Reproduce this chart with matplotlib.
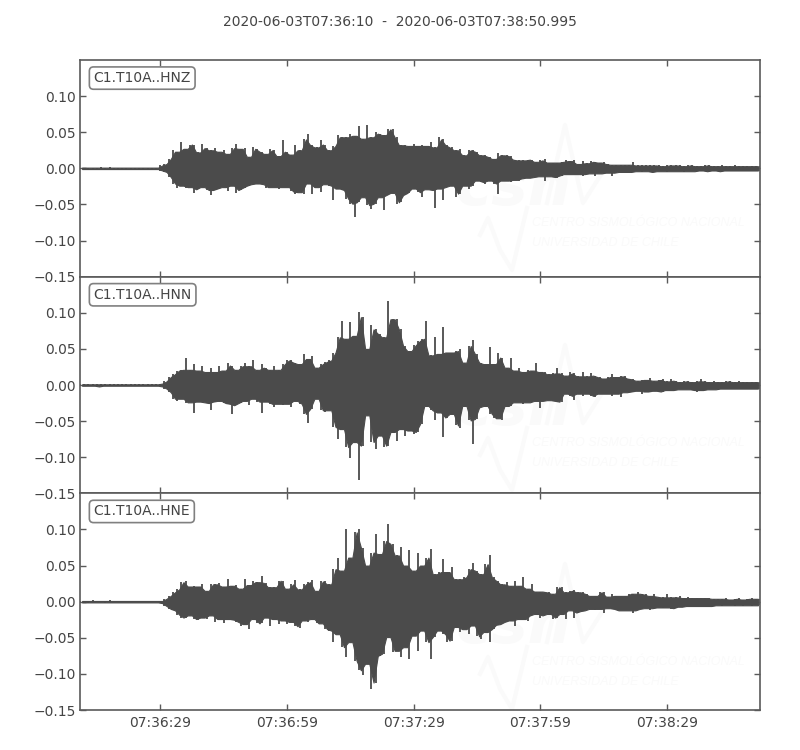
import numpy as np
import matplotlib
matplotlib.use("Agg")
import matplotlib.pyplot as plt
from matplotlib.lines import Line2D

# peak amplitudes, one value per second, in 0.001 units
z_up = [1,1,1,1,1,2,1,2,1,1, 1,1,1,1,1,1,1,1,1,
        4,6,13,25,23,37,27,33,33,22,
        34,28,25,28,23,26,20,28,34,27,
        28,16,29,27,23,20,27,25,17,39,
        23,19,33,25,40,48,32,29,39,33,
        25,31,46,43,43,48,45,58,41,60,
        43,51,48,46,54,54,43,32,32,31,
        34,31,32,31,36,29,43,40,32,29,
        25,27,18,25,25,23,18,18,16,13,
        21,18,18,17,12,11,11,12,12,9,
        11,13,8,8,8,9,12,10,11,6,
        10,7,10,9,8,9,6,5,5,5,
        5,5,9,4,4,5,
        4,5,4,3,4,4,5,4,3,4, 4,3,3,4,4,3,3,4,3,3, 4,3,3,3,3,3,3]
z_down = [1,1,1,1,1,1,2,1,1,1, 1,1,1,1,1,1,1,1,1,
          3,5,12,21,27,24,27,26,34,29,
          26,30,37,30,28,26,32,24,34,30,
          27,24,22,21,22,27,26,26,29,26,
          26,32,35,33,36,21,36,26,33,22,
          24,44,28,30,42,49,67,47,40,51,
          56,49,40,58,37,34,49,47,37,34,
          28,33,40,29,30,55,28,44,26,24,
          40,35,24,28,24,17,19,21,17,21,
          35,17,17,19,16,17,14,13,13,12,
          11,17,11,12,14,10,8,8,8,8,
          10,8,7,10,7,8,6,10,6,5,5,
          5,5,4,5,4,5,5,4,4,5, 4,4,4,5,4,4,4,3,4,4, 3,4,4,3,3,4,3,3,4,3, 3,3]

n_up = [2,1,2,1,2,1,2,1,2,1, 2,1,2,1,1,2,1,1,1,
        2,5,11,15,20,21,38,21,29,20,
        27,18,23,18,26,20,31,27,21,26,
        30,26,34,21,29,24,21,26,21,29,
        34,34,31,29,43,36,40,24,29,32,
        34,45,66,89,64,87,68,101,94,50,
        83,77,71,66,117,91,91,77,54,47,
        55,61,64,88,41,66,43,80,45,45,
        47,50,31,54,62,43,31,29,53,29,
        44,38,24,38,20,24,18,21,20,31,
        18,18,15,16,24,16,13,18,16,12,
        18,12,16,13,11,9,11,15,11,13,
        12,9,8,6,7,7,10,6,7,9,
        5,8,6,4,6,5,4,5,9,5, 4,5,4,4,6,5,4,5,4,4, 4,4,4]
n_down = [2,1,2,1,2,2,1,1,2,1, 1,2,1,1,1,1,1,1,1,
          2,5,10,19,22,19,25,24,39,23,
          24,25,34,23,22,25,26,40,28,25,
          22,28,19,23,39,23,26,31,26,28,
          26,31,22,26,40,52,33,19,35,38,
          35,58,75,61,86,101,79,132,84,42,
          79,89,70,86,84,65,77,61,70,63,
          68,65,54,29,35,49,38,72,45,40,
          56,59,29,49,82,47,31,29,40,46,
          46,49,29,29,24,24,26,24,24,22,
          32,22,21,22,23,23,12,15,21,12,
          15,12,15,17,12,12,12,15,12,17,
          10,10,9,8,12,9,9,8,9,9,
          7,8,7,6,6,6,7,9,7,7, 6,6,6,5,6,5,6,5,6,5, 5,5,5]

e_up = [1,1,1,2,1,1,1,2,1,1, 1,1,1,1,1,1,1,1,1,
        1,4,8,13,17,27,28,21,22,21,
        24,15,24,24,26,21,32,22,23,18,
        31,23,29,27,35,26,20,20,29,29,
        18,24,30,17,24,27,30,15,29,28,
        24,45,61,43,100,61,96,100,75,50,
        68,94,66,84,107,80,64,76,50,71,
        43,67,50,61,73,38,41,59,41,48,
        31,31,34,45,54,43,38,52,64,34,
        29,24,27,22,28,22,34,18,24,14,
        14,14,13,11,20,20,13,15,16,13,
        13,11,8,8,13,13,7,10,8,8,
        8,11,11,14,11,10,8,10,7,6,
        10,6,6,8,5,7,5,5,5,5, 5,4,4,4,5,3,4,5,3,4, 5,4,4]
e_down = [2,1,2,1,1,1,2,1,1,1, 1,1,1,1,1,1,1,1,1,
          2,6,10,12,18,23,22,19,24,25,
          22,24,19,28,24,29,24,25,28,33,
          31,38,24,30,30,22,33,24,31,26,
          31,28,34,36,26,28,24,30,30,38,
          40,56,45,63,77,56,82,95,101,86,
          121,112,75,72,49,70,68,77,63,79,
          47,68,40,56,79,49,40,45,56,54,
          35,42,38,45,33,48,52,42,56,38,
          32,31,28,26,33,24,24,27,19,17,
          22,19,17,24,22,17,24,12,22,15,
          13,12,10,12,10,16,9,10,12,12,
          12,12,15,12,10,9,12,9,8,9,
          8,10,9,7,7,6,8,6,7,6, 6,6,5,6,5,5,6,5,6,5, 6,5,5]

channels = ['C1.T10A..HNZ', 'C1.T10A..HNN', 'C1.T10A..HNE']
uppers = [z_up, n_up, e_up]
lowers = [z_down, n_down, e_down]
y_ticks = [-0.15, -0.10, -0.05, 0.00, 0.05, 0.10]
x_ticks = [19, 49, 79, 109, 139]
x_labels = ['07:36:29', '07:36:59', '07:37:29', '07:37:59', '07:38:29']
title = '2020-06-03T07:36:10  -  2020-06-03T07:38:50.995'
duration = 160.995

dark = '#4b4b4b'
text_col = '#444444'
edge_col = '#5a5a5a'
mark_col = '#fafafa'

fig, axes = plt.subplots(3, 1, figsize=(8, 7.5), sharex=True)
fig.subplots_adjust(left=0.1, right=0.95, top=0.92, bottom=0.0533, hspace=0)
fig.suptitle(title, fontsize=10, color=text_col, y=0.98)


def px(x, y):
    ''' pixel position to figure fraction '''
    return x / 800, 1 - y / 750


def add_watermark(ax, shift):
    # faint logo behind the trace
    for path in ([(480, 235), (488, 218), (500, 250), (512, 270), (527, 208)],
                 [(547, 203), (565, 125), (583, 203), (602, 173)]):
        xs, ys = zip(*[px(x, y + shift) for x, y in path])
        ax.add_line(Line2D(xs, ys, transform=fig.transFigure, color=mark_col, lw=3, zorder=0))
    for s, x, y, size, weight, family in (('CENTRO SISMOLÓGICO NACIONAL', 532, 223, 9, 'normal', 'Liberation Sans'),
                                          ('UNIVERSIDAD DE CHILE', 532, 243, 9, 'normal', 'Liberation Sans'),
                                          ('csn', 456, 188, 44, 'bold', 'DejaVu Sans')):
        fx, fy = px(x, y + shift)
        ax.text(fx, fy, s, transform=fig.transFigure, color=mark_col, fontsize=size, style='italic',
                weight=weight, family=family, va='center', ha='left', zorder=0)


for ax, name, up, down, shift in zip(axes, channels, uppers, lowers, (0, 220, 439)):
    add_watermark(ax, shift)
    t = np.arange(len(up))
    hi = np.array(up) / 1000
    lo = -np.array(down) / 1000
    # solid body between the peaks, one thin spike per second on top
    body_hi = np.minimum(hi[:-1], hi[1:])
    body_lo = np.maximum(lo[:-1], lo[1:])
    ax.fill_between(t[:-1] + 0.5, body_lo, body_hi, color=dark, lw=0.8, zorder=2)
    ax.vlines(t, lo, hi, color=dark, lw=1.3, zorder=2)

    ax.set_xlim(0, duration)
    ax.set_ylim(-0.15, 0.15)
    ax.set_yticks(y_ticks)
    ax.set_yticklabels(['\u2212%.2f' % abs(v) if v < 0 else '%.2f' % v for v in y_ticks])
    ax.set_xticks(x_ticks)
    ax.tick_params(direction='in', length=4, width=1, top=True, right=True, color=edge_col,
                   labelcolor=text_col, labelsize=10)
    ax.tick_params(axis='x', pad=4)
    ax.tick_params(axis='y', pad=3)
    for spine in ax.spines.values():
        spine.set_color(edge_col)
        spine.set_linewidth(1.2)
    ax.text(0.0199, 0.9165, name, transform=ax.transAxes, fontsize=10, color=text_col, va='center', ha='left',
            bbox=dict(boxstyle='round,pad=0.3', facecolor='white', edgecolor='#808080', linewidth=1.2), zorder=5)

axes[-1].set_xticklabels(x_labels)

fig.savefig('out.png', dpi=100)
